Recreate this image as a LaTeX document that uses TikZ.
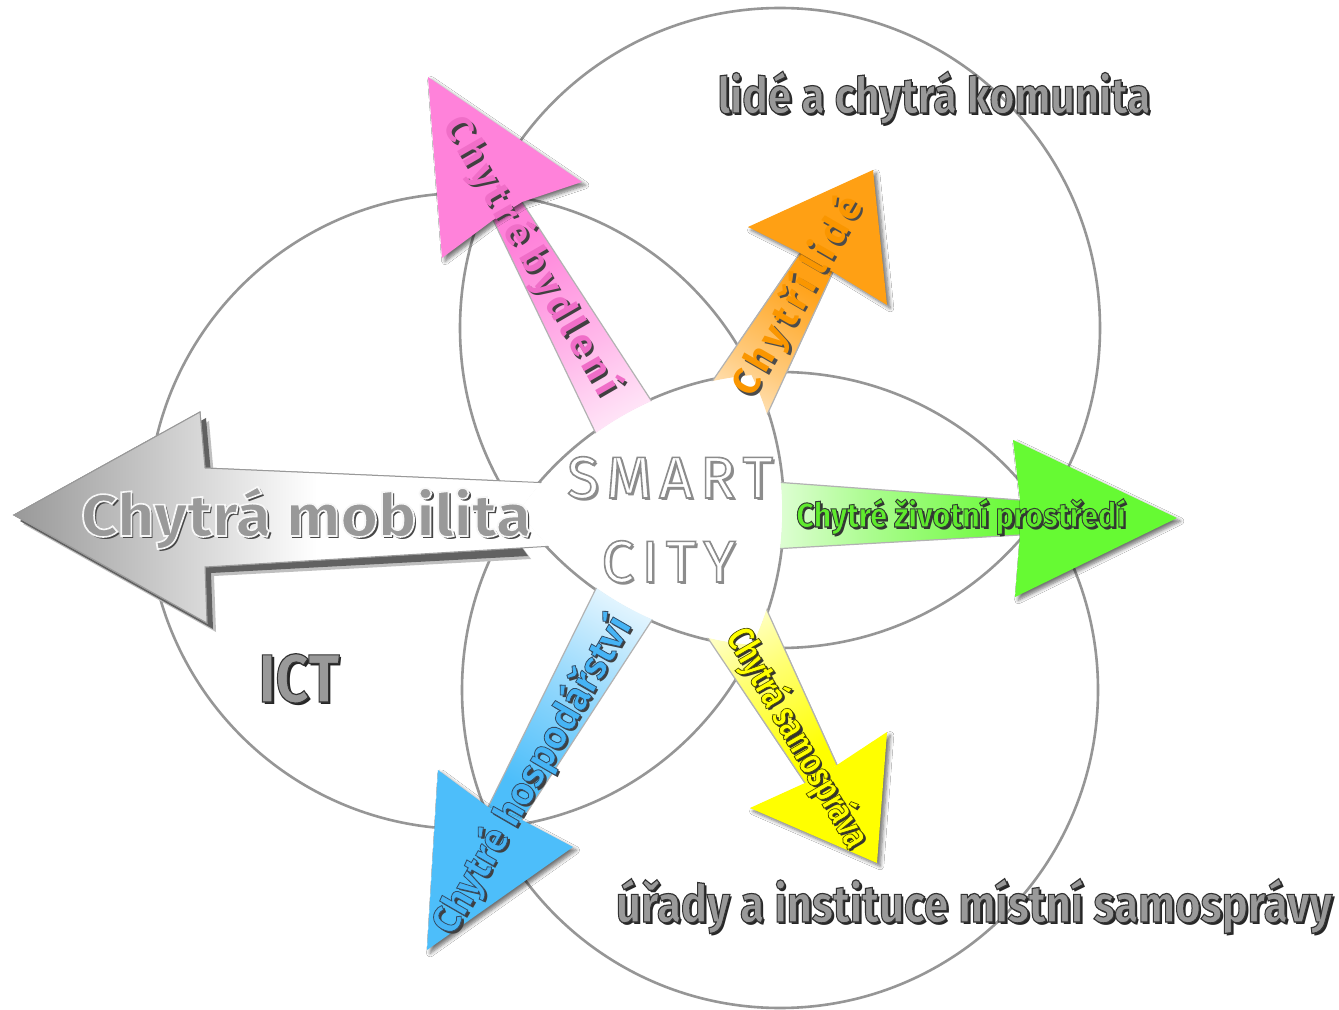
\documentclass[tikz,border=0pt]{standalone}
\usepackage{graphicx}
\usepackage{fontspec}
\setmainfont{Fira Sans}
\usetikzlibrary{shadows.blur}
\definecolor{circ}{RGB}{150,150,150}
\definecolor{cpink}{RGB}{255,130,218}
\definecolor{corange}{RGB}{255,160,20}
\definecolor{cgreen}{RGB}{102,250,51}
\definecolor{cblue}{RGB}{77,190,250}
\definecolor{cyellow}{RGB}{255,255,0}
\definecolor{ctpink}{RGB}{240,110,200}
\definecolor{ctorange}{RGB}{250,150,0}
\definecolor{ctgreen}{RGB}{95,235,45}
\definecolor{ctblue}{RGB}{70,180,245}
\makeatletter
\newcommand\lsp[2]{\def\lsp@k{#1}\@tfor\lsp@c:=#2\do{\lsp@c\kern\lsp@k}\unkern}
\makeatother
% #1 name, #2 position, #3 options, #4 text, #5 fill colour, #6 pdf text render operators, #7 shadow colour
\newcommand\labeltext[7]{%
  \node[#3, text=#7] at ([xshift=1.3pt,yshift=-1.3pt]#2) {#4};
  \node[#3, text=#5] (#1) at (#2) {\special{pdf:literal direct #6}#4\special{pdf:literal direct 0 Tr}};}
\newcommand\shafts{%
  % grey arrow
  \shade[left color=black!40, right color=white, middle color=white, draw=black!40, line width=0.5pt] (14,515) -- (200,412) -- (205,468) -- (620,486) -- (620,542) -- (205,567) -- (207,623) -- cycle;
  % pink
  \shade[shaft={cpink}{30}] (522,202) -- (684,451) -- (625,494) -- (493,220) -- cycle;
  \draw[shaftedge] (522,202) -- (684,451) (493,220) -- (625,494);
  % orange
  \shade[shaft={corange}{-30}] (800,253) -- (668,446) -- (742,469) -- (833,272) -- cycle;
  \draw[shaftedge] (800,253) -- (668,446) (833,272) -- (742,469);
  % green
  \shade[shaft={cgreen}{-90}] (1020,500) -- (720,478) -- (720,552) -- (1020,535) -- cycle;
  \draw[shaftedge] (1020,500) -- (720,478) (1020,535) -- (720,552);
  % blue
  \shade[shaft={cblue}{150}] (488,807) -- (619,542) -- (682,574) -- (522,820) -- cycle;
  \draw[shaftedge] (488,807) -- (619,542) (522,820) -- (682,574);
  % yellow
  \shade[shaft={cyellow}{-150}] (805,783) -- (685,604) -- (747,566) -- (837,765) -- cycle;
  \draw[shaftedge] (805,783) -- (685,604) (837,765) -- (747,566);
}
\begin{document}
\begin{tikzpicture}[x=0.5pt,y=-0.5pt,
  ring/.style={circle, draw=circ, line width=1.3pt, inner sep=0pt, outer sep=0pt},
  shaft/.style 2 args={top color=#1, bottom color=white, middle color=#1!55!white, shading angle=#2},
  shaftedge/.style={draw=black!30, line width=0.6pt},
  headsh/.style={blur shadow={shadow xshift=1.6pt, shadow yshift=-1.6pt, shadow blur radius=1.8pt, shadow opacity=55, shadow blur steps=6}},
  txt/.style={inner sep=0pt, anchor=base},
  rtxt/.style={inner sep=0pt, anchor=center}]
\useasboundingbox (0,0) rectangle (1339,1010);
\fill[white] (0,0) rectangle (1339,1010);
% three circles
\node[ring, minimum size=320pt] (ctop) at (780,328) {};
\node[ring, minimum size=318pt] (cbot) at (780,690) {};
\node[ring, minimum size=318pt] (cleft) at (466,511) {};
% shadow of the grey arrow (drawn once)
\fill[black!25, xshift=4.5pt, yshift=-4.5pt] (14,515) -- (200,412) -- (205,468) -- (470,479) -- (522,550) -- (205,567) -- (207,623) -- cycle;
\fill[black!62, xshift=3pt, yshift=-3pt] (14,515) -- (200,412) -- (205,468) -- (470,479) -- (522,550) -- (205,567) -- (207,623) -- cycle;
% shafts, kept outside the common centre
\begin{scope}[even odd rule]
  \clip (-10,-10) rectangle (1349,1020) (780,328) circle[radius=159.1pt];
  \shafts
\end{scope}
\begin{scope}[even odd rule]
  \clip (-10,-10) rectangle (1349,1020) (780,690) circle[radius=158.1pt];
  \shafts
\end{scope}
\begin{scope}[even odd rule]
  \clip (-10,-10) rectangle (1349,1020) (466,511) circle[radius=158.1pt];
  \shafts
\end{scope}
% arrow heads
\fill[cpink, headsh] (428,77) -- (582,182) -- (522,202) -- (493,220) -- (442,258) -- cycle;
\fill[corange, headsh] (873,170) -- (887,305) -- (833,272) -- (800,253) -- (748,227) -- cycle;
\fill[cgreen, headsh] (1177,518) -- (1015,597) -- (1020,535) -- (1020,500) -- (1013,440) -- cycle;
\fill[cblue, headsh] (427,950) -- (438,770) -- (488,807) -- (522,820) -- (573,847) -- cycle;
\fill[cyellow, headsh] (877,863) -- (750,808) -- (805,783) -- (837,765) -- (887,732) -- cycle;
% texts
\labeltext{tmob}{306,536}{txt, font=\bfseries\fontsize{29.5}{30}\selectfont}{\scalebox{1.09}[1]{Chytrá mobilita}}{black!40}{2 Tr 0.8 w 0.97 0.97 0.97 RG}{black!72}
\labeltext{tsmart}{670,498}{txt, font=\fontsize{29.5}{30}\selectfont}{S\kern3.5pt M\kern3.5pt A\kern3.5pt R\kern3.5pt T}{white}{2 Tr 0.8 w 0.55 0.55 0.55 RG}{black!45}
\labeltext{tcity}{668.5,582}{txt, font=\fontsize{29.5}{30}\selectfont}{C\kern3.5pt I\kern3.5pt T\kern3.5pt Y}{white}{2 Tr 0.8 w 0.55 0.55 0.55 RG}{black!45}
\labeltext{tgreen}{961,527}{txt, font=\bfseries\fontsize{17}{17}\selectfont}{\scalebox{0.9}[1]{Chytré životní prostředí}}{ctgreen}{2 Tr 0.5 w 0.2 0.25 0.2 RG}{black!80}
\labeltext{tlide}{934,113}{txt, font=\bfseries\fontsize{25}{25}\selectfont}{\scalebox{0.85}[1]{lidé a chytrá komunita}}{black!40}{2 Tr 0.6 w 0.2 0.2 0.2 RG}{black!85}
\labeltext{turad}{974,922}{txt, font=\bfseries\fontsize{26}{26}\selectfont}{\scalebox{0.84}[1]{úřady a instituce místní samosprávy}}{black!40}{2 Tr 0.6 w 0.2 0.2 0.2 RG}{black!85}
\labeltext{tict}{299,702}{txt, font=\bfseries\fontsize{34}{34}\selectfont}{\scalebox{0.85}[1]{ICT}}{black!40}{2 Tr 0.6 w 0.2 0.2 0.2 RG}{black!85}
\labeltext{tpink}{531,256}{rtxt, rotate=-60, font=\bfseries\fontsize{19}{19}\selectfont}{\lsp{2.7pt}{Chytré}\kern5pt\lsp{2.7pt}{bydlení}}{ctpink}{0 Tr}{black!75}
\labeltext{torange}{798,296}{rtxt, rotate=60, font=\bfseries\fontsize{19}{19}\selectfont}{\lsp{2.7pt}{Chytří}\kern5pt\lsp{2.7pt}{lidé}}{ctorange}{0 Tr}{black!70}
\labeltext{tblue}{532,775}{rtxt, rotate=60, font=\bfseries\fontsize{19.5}{19.5}\selectfont}{Chytré hospodářství}{ctblue}{2 Tr 0.4 w 0.2 0.3 0.4 RG}{black!75}
\labeltext{tyellow}{797,738}{rtxt, rotate=-60, font=\bfseries\fontsize{19}{19}\selectfont}{\scalebox{0.75}[1]{Chytrá samospráva}}{cyellow}{2 Tr 0.4 w 0.3 0.3 0 RG}{black!80}
\end{tikzpicture}
\end{document}
